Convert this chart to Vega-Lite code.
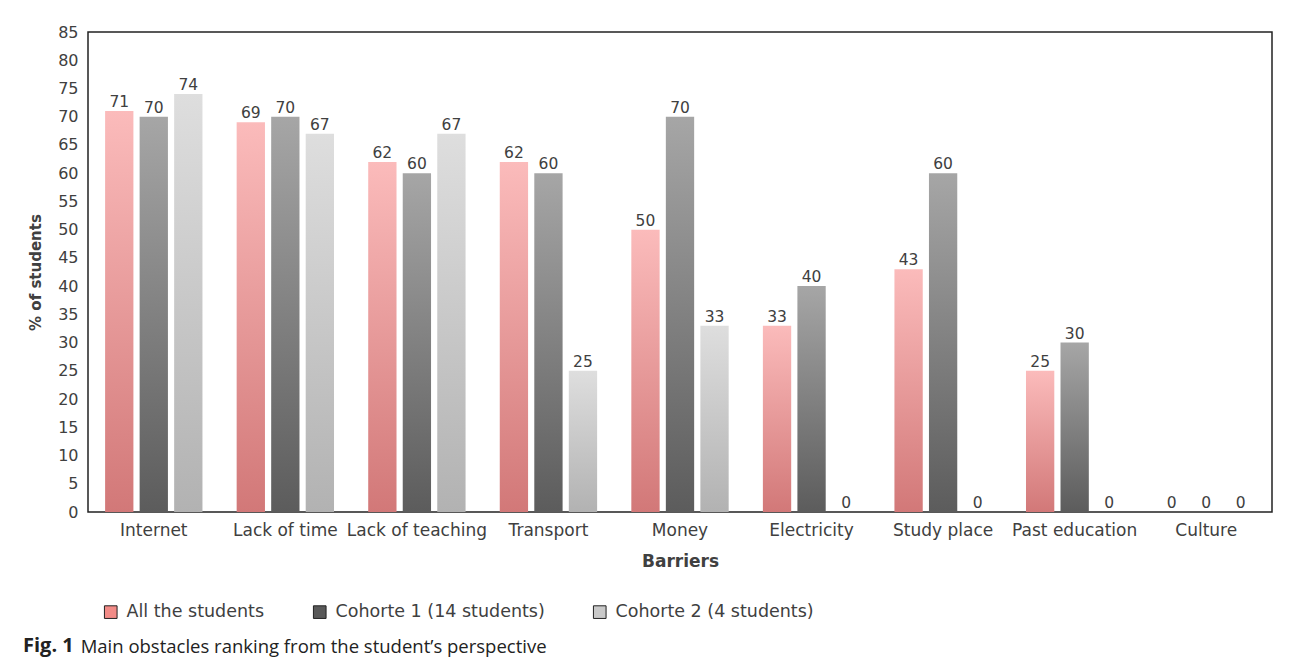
{
  "$schema": "https://vega.github.io/schema/vega-lite/v6.json",
  "autosize": {"type": "none"},
  "width": 1184,
  "height": 480,
  "padding": {"left": 88, "top": 32, "right": 20, "bottom": 156},
  "background": "white",
  "config": {
    "font": "DejaVu Sans",
    "view": {"stroke": "#222222", "strokeWidth": 1.5},
    "axis": {"grid": false, "ticks": false, "domain": false, "labelColor": "#404040", "labelFontSize": 16, "titleFontSize": 15, "titleFontWeight": "bold", "titleColor": "#404040"}
  },
  "title": {
    "text": "Fig. 1",
    "subtitle": "\u200b\u00a0\u00a0\u00a0\u00a0\u00a0\u00a0\u00a0\u00a0\u00a0\u00a0\u00a0\u00a0Main obstacles ranking from the student’s perspective",
    "orient": "bottom",
    "anchor": "start",
    "frame": "group",
    "dx": -65,
    "offset": 15,
    "font": "Open Sans",
    "fontSize": 20,
    "fontWeight": "bold",
    "color": "#222222",
    "subtitleFont": "Open Sans",
    "subtitleFontSize": 18.5,
    "subtitleColor": "#222222",
    "subtitlePadding": -18
  },
  "data": {
    "values": [
      {"barrier": "Internet", "series": "All the students", "value": 71},
      {"barrier": "Internet", "series": "Cohorte 1 (14 students)", "value": 70},
      {"barrier": "Internet", "series": "Cohorte 2 (4 students)", "value": 74},
      {"barrier": "Lack of time", "series": "All the students", "value": 69},
      {"barrier": "Lack of time", "series": "Cohorte 1 (14 students)", "value": 70},
      {"barrier": "Lack of time", "series": "Cohorte 2 (4 students)", "value": 67},
      {"barrier": "Lack of teaching", "series": "All the students", "value": 62},
      {"barrier": "Lack of teaching", "series": "Cohorte 1 (14 students)", "value": 60},
      {"barrier": "Lack of teaching", "series": "Cohorte 2 (4 students)", "value": 67},
      {"barrier": "Transport", "series": "All the students", "value": 62},
      {"barrier": "Transport", "series": "Cohorte 1 (14 students)", "value": 60},
      {"barrier": "Transport", "series": "Cohorte 2 (4 students)", "value": 25},
      {"barrier": "Money", "series": "All the students", "value": 50},
      {"barrier": "Money", "series": "Cohorte 1 (14 students)", "value": 70},
      {"barrier": "Money", "series": "Cohorte 2 (4 students)", "value": 33},
      {"barrier": "Electricity", "series": "All the students", "value": 33},
      {"barrier": "Electricity", "series": "Cohorte 1 (14 students)", "value": 40},
      {"barrier": "Electricity", "series": "Cohorte 2 (4 students)", "value": 0},
      {"barrier": "Study place", "series": "All the students", "value": 43},
      {"barrier": "Study place", "series": "Cohorte 1 (14 students)", "value": 60},
      {"barrier": "Study place", "series": "Cohorte 2 (4 students)", "value": 0},
      {"barrier": "Past education", "series": "All the students", "value": 25},
      {"barrier": "Past education", "series": "Cohorte 1 (14 students)", "value": 30},
      {"barrier": "Past education", "series": "Cohorte 2 (4 students)", "value": 0},
      {"barrier": "Culture", "series": "All the students", "value": 0},
      {"barrier": "Culture", "series": "Cohorte 1 (14 students)", "value": 0},
      {"barrier": "Culture", "series": "Cohorte 2 (4 students)", "value": 0}
    ]
  },
  "encoding": {
    "x": {
      "field": "barrier", "type": "nominal", "sort": null,
      "scale": {"paddingInner": 0.26, "paddingOuter": 0.13},
      "axis": {"labelAngle": 0, "labelPadding": 10, "labelFontSize": 17, "title": "Barriers", "titleFontSize": 17, "titlePadding": 15}
    },
    "xOffset": {
      "field": "series", "type": "nominal",
      "scale": {"domain": ["All the students", "Cohorte 1 (14 students)", "Cohorte 2 (4 students)"], "paddingInner": 0.18, "paddingOuter": 0}
    },
    "y": {
      "field": "value", "type": "quantitative",
      "scale": {"domain": [0, 85], "nice": false},
      "axis": {"values": [0,5,10,15,20,25,30,35,40,45,50,55,60,65,70,75,80,85], "labelPadding": 10, "title": "% of students", "titlePadding": 14}
    }
  },
  "layer": [
    {
      "transform": [{"filter": "datum.series === 'All the students'"}],
      "mark": {"type": "bar", "fill": {"gradient": "linear", "x1": 0, "y1": 0, "x2": 0, "y2": 1, "stops": [{"offset": 0, "color": "#FBBBBB"}, {"offset": 1, "color": "#D27878"}]}}
    },
    {
      "transform": [{"filter": "datum.series === 'Cohorte 1 (14 students)'"}],
      "mark": {"type": "bar", "fill": {"gradient": "linear", "x1": 0, "y1": 0, "x2": 0, "y2": 1, "stops": [{"offset": 0, "color": "#A6A6A6"}, {"offset": 1, "color": "#5C5C5C"}]}}
    },
    {
      "transform": [{"filter": "datum.series === 'Cohorte 2 (4 students)'"}],
      "mark": {"type": "bar", "fill": {"gradient": "linear", "x1": 0, "y1": 0, "x2": 0, "y2": 1, "stops": [{"offset": 0, "color": "#DEDEDE"}, {"offset": 1, "color": "#B2B2B2"}]}}
    },
    {
      "mark": {"type": "bar", "opacity": 0},
      "encoding": {
        "color": {
          "field": "series", "type": "nominal",
          "scale": {"domain": ["All the students", "Cohorte 1 (14 students)", "Cohorte 2 (4 students)"], "range": ["#F28B87", "#595959", "#C9C9C9"]},
          "legend": {
            "orient": "none", "legendX": 14, "legendY": 571, "direction": "horizontal", "title": null,
            "symbolType": "square", "symbolSize": 160, "symbolOpacity": 1, "symbolStrokeColor": "#222222", "symbolStrokeWidth": 1,
            "labelFontSize": 17.5, "labelColor": "#404040", "columnPadding": 46, "labelOffset": 7, "labelLimit": 300
          }
        }
      }
    },
    {
      "mark": {"type": "text", "baseline": "alphabetic", "dy": -4, "fontSize": 15.5, "color": "#404040"},
      "encoding": {"text": {"field": "value", "type": "quantitative"}}
    }
  ]
}
